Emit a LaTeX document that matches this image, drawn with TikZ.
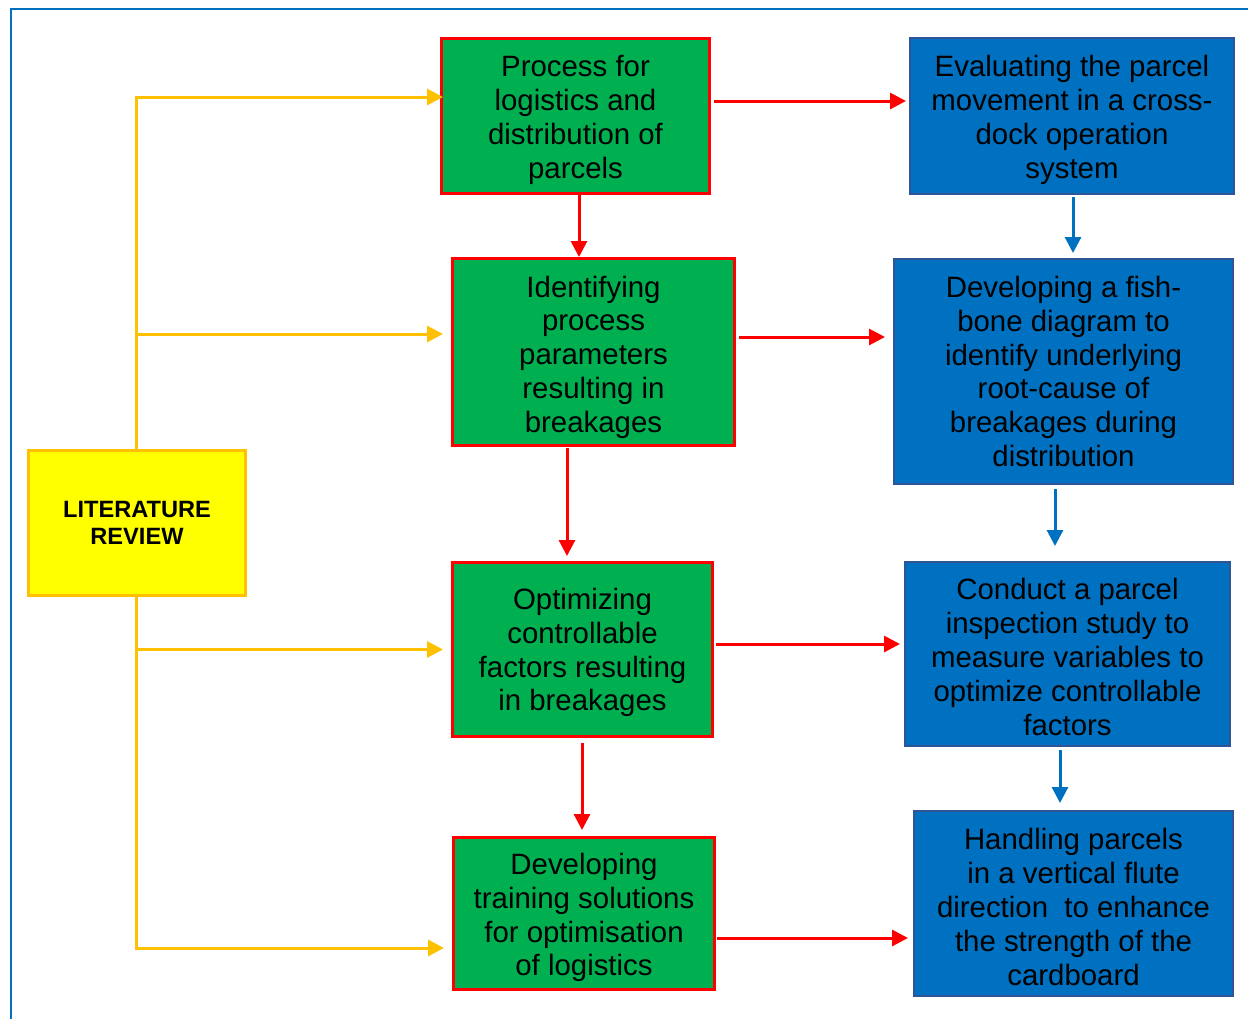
\documentclass[tikz,border=0pt]{standalone}
\usepackage{fontspec}
\setmainfont{Liberation Sans}
\usetikzlibrary{arrows.meta}
\definecolor{boxgreen}{HTML}{00B050}
\definecolor{boxred}{HTML}{FF0000}
\definecolor{boxblue}{HTML}{0070C0}
\definecolor{blueedge}{HTML}{2F5597}
\definecolor{litfill}{HTML}{FFFF00}
\definecolor{litedge}{HTML}{FFC000}
\tikzset{
  gbox/.style={draw=boxred, fill=boxgreen, line width=1.5pt, inner sep=0pt},
  bbox/.style={draw=blueedge, fill=boxblue, line width=1pt, inner sep=0pt},
  txt/.style={inner sep=0pt, align=center, font=\fontsize{14.7}{16.9}\selectfont},
  lbox/.style={draw=litedge, fill=litfill, line width=1.5pt, inner sep=0pt, align=center,
    font=\fontsize{11.8}{13.5}\selectfont\bfseries},
  ra/.style={draw=boxred, line width=1.5pt, -{Triangle[length=8pt,width=8pt]}},
  ba/.style={draw=boxblue, line width=1.5pt, -{Triangle[length=8pt,width=8pt]}},
  ya/.style={draw=litedge, line width=1.5pt, -{Triangle[length=8pt,width=8pt]}},
}
\begin{document}
\begin{tikzpicture}[x=0.5pt, y=-0.5pt]
\clip (0,0) rectangle (1248,1018);
\useasboundingbox (0,0) rectangle (1248,1018);
% outer frame
\draw[boxblue, line width=1pt] (10.5,1040) -- (10.5,8.5) -- (1270,8.5);

% process column
\node[gbox, minimum width=134pt, minimum height=77.5pt,
  label={[txt, yshift=-2pt]center:{Process for\\logistics and\\distribution of\\parcels}}]
  (g1) at (575.5,116) {};
\node[gbox, minimum width=141pt, minimum height=93.5pt,
  label={[txt, yshift=-2.5pt]center:{Identifying\\process\\parameters\\resulting in\\breakages}}]
  (g2) at (593.5,352) {};
\node[gbox, minimum width=130pt, minimum height=87pt,
  label={[txt, yshift=-1.5pt]center:{Optimizing\\controllable\\factors resulting\\in breakages}}]
  (g3) at (582.5,649.5) {};
\node[gbox, minimum width=130.5pt, minimum height=76pt,
  label={[txt, yshift=-2pt]center:{Developing\\training solutions\\for optimisation\\of logistics}}]
  (g4) at (584,913.5) {};

% outcome column
\node[bbox, minimum width=162pt, minimum height=78pt,
  label={[txt, yshift=-2pt]center:{Evaluating the parcel\\movement in a cross-\\dock operation\\system}}]
  (b1) at (1072,116) {};
\node[bbox, minimum width=169.5pt, minimum height=112.5pt,
  label={[txt]center:{Developing a fish-\\bone diagram to\\identify underlying\\root-cause of\\breakages during\\distribution}}]
  (b2) at (1063.5,371.5) {};
\node[bbox, minimum width=162.5pt, minimum height=92pt,
  label={[txt, yshift=-1.5pt]center:{Conduct a parcel\\inspection study to\\measure variables to\\optimize controllable\\factors}}]
  (b3) at (1067.5,654) {};
\node[bbox, minimum width=159.5pt, minimum height=92.5pt,
  label={[txt, yshift=-1.75pt]center:{Handling parcels\\in a vertical flute\\direction\ \ to enhance\\the strength of the\\cardboard}}]
  (b4) at (1073.5,903.5) {};

% literature review
\node[lbox, minimum width=108.5pt, minimum height=72.5pt] (lr) at (137,523)
  {LITERATURE\\REVIEW};

% feeds from the literature review
\coordinate (t1) at ([shift={(3,-19)}]g1.west);
\coordinate (t2) at ([shift={(-8,-18)}]g2.west);
\coordinate (t3) at ([shift={(-8,0)}]g3.west);
\coordinate (t4) at ([shift={(-8,34.5)}]g4.west);
\draw[ya] ([xshift=-0.5pt]lr.north) |- (t1);
\draw[ya] ([xshift=-0.5pt]lr.north |- t2) -- (t2);
\draw[ya] ([xshift=-0.5pt]lr.south) |- (t4);
\draw[ya] ([xshift=-0.5pt]lr.south |- t3) -- (t3);

% red flow: down the process column and across
\draw[ra] ([shift={(3,-15)}]g1.east) -- ([shift={(-3,-15)}]b1.west);
\draw[ra] ([shift={(3.5,0)}]g1.south) -- ([shift={(3.5,0)}]g1.south |- g2.north);
\draw[ra] ([shift={(3,-15)}]g2.east) -- ([shift={(-8,-34.5)}]b2.west);
\draw[ra] ([shift={(-26.5,1)}]g2.south) -- ([shift={(-26.5,-5)}]g2.south |- g3.north);
\draw[ra] ([shift={(2,-5.5)}]g3.east) -- ([shift={(-4,-10)}]b3.west);
\draw[ra] ([shift={(-0.5,5)}]g3.south) -- ([shift={(-0.5,-6)}]g3.south |- g4.north);
\draw[ra] ([shift={(1,24.5)}]g4.east) -- ([shift={(-5,34.5)}]b4.west);

% blue flow down the outcome column
\draw[ba] ([shift={(1,2)}]b1.south) -- ([shift={(1,-5)}]b1.south |- b2.north);
\draw[ba] ([shift={(-8.5,4)}]b2.south) -- ([shift={(-8.5,-15)}]b2.south |- b3.north);
\draw[ba] ([shift={(-7.5,3)}]b3.south) -- ([shift={(-7.5,-7)}]b3.south |- b4.north);
\end{tikzpicture}
\end{document}
